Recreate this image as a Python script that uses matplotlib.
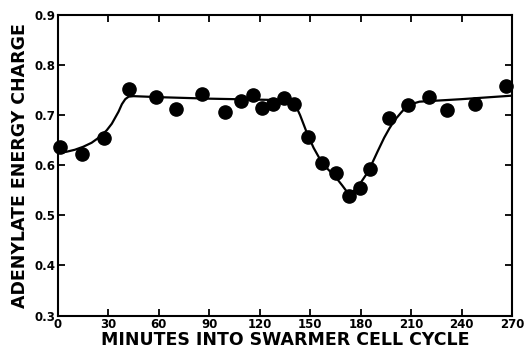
import numpy as np
import matplotlib.pyplot as plt

# measured points (minutes, energy charge)
minutes = [1, 14.5, 27.5, 42.5, 58, 70, 85.7, 99.3, 108.7, 116, 121.6, 128, 134.4,
           140.2, 148.5, 156.8, 165.4, 173.3, 179.7, 185.6, 196.9, 208, 220.7,
           231.6, 248.2, 266.3]
charge = [0.637, 0.622, 0.655, 0.753, 0.736, 0.713, 0.742, 0.707, 0.729, 0.740,
          0.715, 0.723, 0.735, 0.722, 0.657, 0.605, 0.585, 0.539, 0.555, 0.592,
          0.694, 0.721, 0.737, 0.710, 0.722, 0.758]

# hand-drawn trend line
curve_x = [0, 5, 10, 15, 20, 25, 29, 32, 34, 36, 38, 40, 42, 45, 60, 90, 120,
           134, 138, 141, 144, 148, 152, 156, 160, 165, 169, 173, 176, 180, 183,
           186, 190, 194, 197, 200, 204, 207, 211, 215, 240, 270]
curve_y = [0.625, 0.627, 0.631, 0.637, 0.645, 0.657, 0.670, 0.683, 0.695, 0.707,
           0.722, 0.732, 0.737, 0.738, 0.736, 0.733, 0.731, 0.730, 0.728, 0.722,
           0.700, 0.665, 0.635, 0.611, 0.594, 0.577, 0.560, 0.542, 0.549, 0.565,
           0.580, 0.598, 0.627, 0.655, 0.673, 0.689, 0.705, 0.716, 0.723, 0.727,
           0.732, 0.739]

xticks = [0, 30, 60, 90, 120, 150, 180, 210, 240, 270]
yticks = [0.3, 0.4, 0.5, 0.6, 0.7, 0.8, 0.9]

plt.rcParams['font.family'] = ['DejaVu Sans']
plt.rcParams['font.weight'] = 'bold'

fig = plt.figure(figsize=(5.24, 3.53), dpi=100)
ax = fig.add_axes([0.1107, 0.106, 0.8663, 0.8515])

ax.plot(curve_x, curve_y, color='black', lw=1.6, zorder=2)
ax.plot(minutes, charge, 'o', color='black', ms=9.5, zorder=3, clip_on=False)

ax.set_xlim(0, 270)
ax.set_ylim(0.3, 0.9)
ax.set_xticks(xticks)
ax.set_yticks(yticks)
ax.set_xticklabels([str(t) for t in xticks], fontsize=8.5, fontweight='heavy')
ax.set_yticklabels([f'{t:.1f}' for t in yticks], fontsize=8.5, fontweight='heavy')
ax.tick_params(direction='in', length=5, width=1.3, top=True, right=True, pad=2)

for s in ax.spines.values():
    s.set_linewidth(1.5)

ax.set_xlabel('MINUTES INTO SWARMER CELL CYCLE', fontsize=12.5, fontweight='heavy', labelpad=0)
ax.set_ylabel('ADENYLATE ENERGY CHARGE', fontsize=12.5, fontweight='heavy', labelpad=4)

plt.savefig('out.png', dpi=100)
